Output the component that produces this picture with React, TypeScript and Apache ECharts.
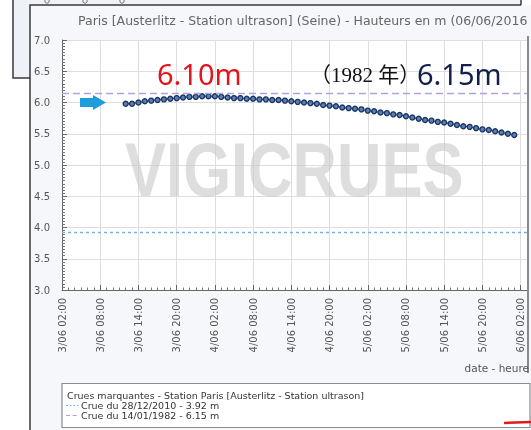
import React, { useEffect, useRef } from "react";
import * as echarts from "echarts";

// Hours are counted from 3/06 02:00, the left end of the time axis
const axisStartDay = 3;
const axisStartHour = 2;
const axisSpanHours = 73;
const tickStepHours = 6;
// first reading: 3/06 12:00, then one reading per hour
const firstReadingHour = 10;
const levels = [
  5.98, 5.98, 6.0, 6.02, 6.03, 6.04, 6.05, 6.06, 6.07, 6.08,
  6.09, 6.09, 6.1, 6.1, 6.1, 6.09, 6.08, 6.07, 6.07, 6.06,
  6.06, 6.05, 6.05, 6.04, 6.04, 6.03, 6.02, 6.01, 6.0, 5.99,
  5.98, 5.96, 5.95, 5.94, 5.92, 5.91, 5.9, 5.89, 5.87, 5.86,
  5.84, 5.83, 5.81, 5.8, 5.78, 5.76, 5.74, 5.72, 5.71, 5.69,
  5.68, 5.66, 5.64, 5.62, 5.61, 5.59, 5.57, 5.56, 5.54, 5.52,
  5.5, 5.48,
];

const yMin = 3;
const yMax = 7;
const yStep = 0.5;

const crueDates = ["28/12/2010", "14/01/1982"];
const crueValues = [3.92, 6.15];

const chartTitle =
  "Paris [Austerlitz - Station ultrason] (Seine) - Hauteurs en m (06/06/2016";
const legendTitle =
  "Crues marquantes - Station Paris [Austerlitz - Station ultrason]";
const xAxisName = "date - heure";
const peakLabel = "6.10m";
const recordYearLabel = "（1982 年）";
const recordLabel = "6.15m";
const watermark = "VIGICRUES";

const crueColors = ["#6cb6e6", "#aaa5e4"];
const crueDashes = [
  [3, 3],
  [7, 4],
];

function hourLabel(h: number): string {
  if (h % tickStepHours !== 0) return "";
  const t = axisStartHour + h;
  const d = axisStartDay + Math.floor(t / 24);
  const hh = t % 24;
  return `${d}/06 ${String(hh).padStart(2, "0")}:00`;
}

const SANS = "DejaVu Sans";

export default function App() {
  const ref = useRef<HTMLDivElement>(null);
  useEffect(() => {
    if (!ref.current) return;
    const chart = echarts.init(ref.current, null, { renderer: "svg" });
    const gridL = 62;
    const gridT = 40;
    const gridW = 465;
    const gridH = 250;

    const seriesData = levels.map((v, i) => [firstReadingHour + i, v]);

    const graphic: any[] = [
      // back window
      {
        type: "rect",
        z: -20,
        shape: { x: 13, y: -5, width: 508, height: 83 },
        style: { fill: "#eef1f8", stroke: "#3a3a3a", lineWidth: 1.5 },
      },
      ...[47, 85, 122].map((cx) => ({
        type: "circle",
        z: -19,
        shape: { cx, cy: 1, r: 2.2 },
        style: { fill: "none", stroke: "#777", lineWidth: 1 },
      })),
      // front panel
      {
        type: "rect",
        z: -15,
        shape: { x: 30, y: 5, width: 540, height: 440 },
        style: { fill: "#f5f7fb" },
      },
      {
        type: "polyline",
        z: -14,
        shape: {
          points: [
            [30, 440],
            [30, 5],
            [521, 5],
          ],
        },
        style: { fill: "none", stroke: "#3a3a3a", lineWidth: 1.5 },
      },
      // plot area
      {
        type: "rect",
        z: -10,
        shape: { x: gridL, y: gridT, width: gridW, height: gridH },
        style: { fill: "#ffffff" },
      },
      {
        type: "line",
        z: 6,
        shape: { x1: 528, y1: 36, x2: 528, y2: 373 },
        style: { stroke: "#8a8a8a", lineWidth: 2 },
      },
      // title
      {
        type: "text",
        z: 6,
        x: 78,
        y: 20,
        style: {
          text: chartTitle,
          font: `12.5px "${SANS}"`,
          fill: "#666",
          verticalAlign: "middle",
        },
      },
      // watermark
      {
        type: "text",
        z: 1,
        x: 125,
        y: 170,
        scaleX: 0.81,
        style: {
          text: watermark,
          font: 'bold 76px "Liberation Sans"',
          fill: "rgba(200,200,200,0.6)",
          verticalAlign: "middle",
        },
      },
      // arrow
      {
        type: "polygon",
        z: 6,
        shape: {
          points: [
            [80, 98],
            [93, 98],
            [93, 95],
            [106, 102.5],
            [93, 110],
            [93, 107],
            [80, 107],
          ],
        },
        style: { fill: "#1f9ddb" },
      },
      // annotations
      {
        type: "text",
        z: 6,
        x: 157,
        y: 73,
        style: {
          text: peakLabel,
          font: '29px "Noto Sans"',
          fill: "#e3141c",
          verticalAlign: "middle",
        },
      },
      {
        type: "text",
        z: 6,
        x: 310,
        y: 75,
        style: {
          text: recordYearLabel,
          font: '21px "Liberation Serif", "Noto Sans CJK SC"',
          fill: "#111",
          verticalAlign: "middle",
        },
      },
      {
        type: "text",
        z: 6,
        x: 417,
        y: 73,
        style: {
          text: recordLabel,
          font: '29px "Noto Sans"',
          fill: "#10204a",
          verticalAlign: "middle",
        },
      },
      // axis name
      {
        type: "text",
        z: 6,
        x: 529,
        y: 368,
        style: {
          text: xAxisName,
          font: `10.5px "${SANS}"`,
          fill: "#555",
          align: "right",
          verticalAlign: "middle",
        },
      },
      // legend box
      {
        type: "rect",
        z: 5,
        shape: { x: 62, y: 383.5, width: 468, height: 44 },
        style: { fill: "#ffffff", stroke: "#8c8c8c", lineWidth: 1.2 },
      },
      {
        type: "text",
        z: 6,
        x: 67,
        y: 395,
        style: {
          text: legendTitle,
          font: `9.5px "${SANS}"`,
          fill: "#333",
          verticalAlign: "middle",
        },
      },
      ...crueDates.map((d, i) => ({
        type: "group",
        z: 6,
        children: [
          {
            type: "line",
            z: 6,
            shape: { x1: 66, y1: 405.5 + i * 10, x2: 78, y2: 405.5 + i * 10 },
            style: {
              stroke: crueColors[i],
              lineWidth: 1.2,
              lineDash: crueDashes[i].map((v) => v * 0.6),
            },
          },
          {
            type: "text",
            z: 6,
            x: 81,
            y: 405.5 + i * 10,
            style: {
              text: `Crue du ${d} - ${crueValues[i].toFixed(2)} m`,
              font: `9.5px "${SANS}"`,
              fill: "#333",
              verticalAlign: "middle",
            },
          },
        ],
      })),
      {
        type: "line",
        z: 7,
        shape: { x1: 504, y1: 423, x2: 531, y2: 422 },
        style: { stroke: "#e21a1a", lineWidth: 2.5 },
      },
    ];

    chart.setOption({
      animation: false,
      grid: { left: gridL, top: gridT, width: gridW, height: gridH },
      xAxis: {
        type: "value",
        min: 0,
        max: axisSpanHours,
        interval: tickStepHours,
        axisLine: { lineStyle: { color: "#666", width: 1 } },
        axisTick: { inside: true, length: 5, lineStyle: { color: "#666" } },
        minorTick: {
          show: true,
          splitNumber: 6,
          length: 2.5,
          lineStyle: { color: "#777" },
        },
        splitLine: { show: true, lineStyle: { color: "#dedede", width: 1 } },
        axisLabel: {
          rotate: 90,
          margin: 8,
          fontSize: 10,
          fontFamily: SANS,
          color: "#555",
          formatter: (v: number) => hourLabel(v),
        },
      },
      yAxis: {
        type: "value",
        min: yMin,
        max: yMax,
        interval: yStep,
        axisLine: { show: true, lineStyle: { color: "#666", width: 1 } },
        axisTick: { show: true, inside: true, length: 5, lineStyle: { color: "#666" } },
        minorTick: {
          show: true,
          splitNumber: 10,
          length: 3,
          lineStyle: { color: "#777" },
        },
        splitLine: { show: true, lineStyle: { color: "#dedede", width: 1 } },
        axisLabel: {
          margin: 12,
          fontSize: 10,
          fontFamily: SANS,
          color: "#555",
          formatter: (v: number) => v.toFixed(1),
        },
      },
      series: [
        {
          type: "line",
          data: seriesData,
          symbol: "circle",
          symbolSize: 5,
          showSymbol: true,
          z: 4,
          lineStyle: { color: "#2c4a78", width: 1 },
          itemStyle: { color: "#5f7fae", borderColor: "#1a3565", borderWidth: 1.4 },
          markLine: {
            silent: true,
            symbol: ["none", "none"],
            label: { show: false },
            data: crueValues.map((v, i) => ({
              yAxis: v,
              lineStyle: {
                color: crueColors[i],
                width: 1.4,
                type: crueDashes[i],
              },
            })),
          },
        },
      ],
      graphic: { elements: graphic },
    });
    return () => chart.dispose();
  }, []);
  return (
    <div
      ref={ref}
      style={{ position: "fixed", left: 0, top: 0, width: 531, height: 430 }}
    />
  );
}
